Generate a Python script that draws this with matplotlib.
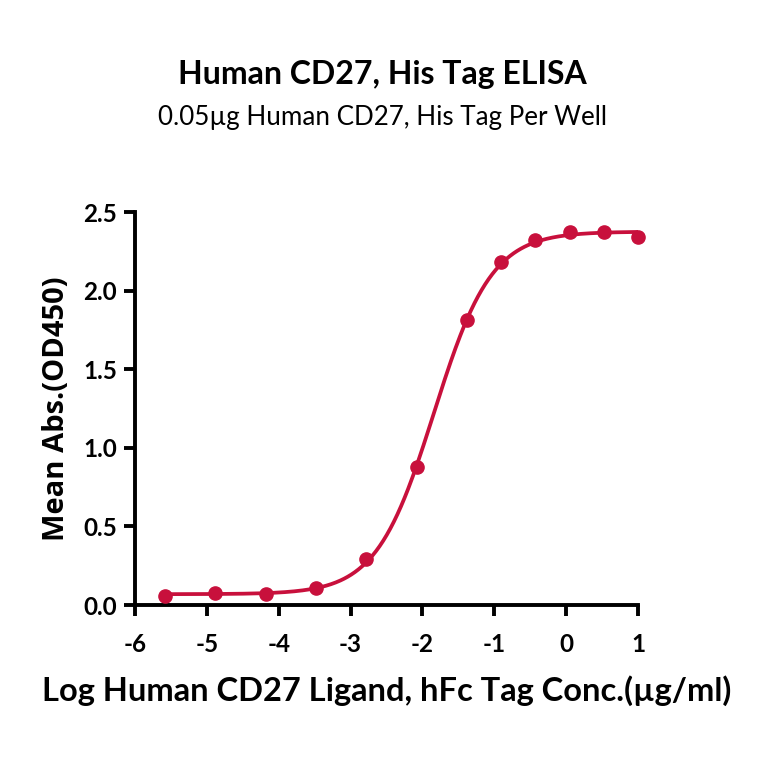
import numpy as np
import matplotlib
matplotlib.use("Agg")
import matplotlib.pyplot as plt

# log concentration (ug/ml) and mean OD450
log_conc = [-5.58, -4.88, -4.18, -3.48, -2.78, -2.08, -1.38, -0.91, -0.43, 0.05, 0.52, 1.0]
mean_abs = [0.057, 0.076, 0.070, 0.108, 0.29, 0.88, 1.81, 2.18, 2.32, 2.37, 2.37, 2.34]

x_ticks = [-6, -5, -4, -3, -2, -1, 0, 1]
y_ticks = [0.0, 0.5, 1.0, 1.5, 2.0, 2.5]

title = "Human CD27, His Tag ELISA"
subtitle = "0.05\u00b5g Human CD27, His Tag Per Well"
x_label = "Log Human CD27 Ligand, hFc Tag Conc.(\u00b5g/ml)"
y_label = "Mean Abs.(OD450)"

color = "#c8103c"


def four_pl_fit(x, y):
    # grid search on logEC50 / hill, bottom & top by linear least squares
    x = np.asarray(x)
    y = np.asarray(y)
    best = None
    for ec in np.linspace(-3, -1, 201):
        for h in np.linspace(0.5, 3, 126):
            s = 1.0 / (1.0 + 10 ** ((ec - x) * h))
            A = np.column_stack([1 - s, s])
            coef, *_ = np.linalg.lstsq(A, y, rcond=None)
            err = np.sum((A @ coef - y) ** 2)
            if best is None or err < best[0]:
                best = (err, coef[0], coef[1], ec, h)
    return best[1:]


bottom, top, ec50, hill = four_pl_fit(log_conc, mean_abs)
xs = np.linspace(min(log_conc), max(log_conc), 400)
ys = bottom + (top - bottom) / (1 + 10 ** ((ec50 - xs) * hill))

fig = plt.figure(figsize=(7.64, 7.64), dpi=100)
ax = fig.add_axes([0.1767, 0.2081, 0.6584, 0.5144])

ax.plot(xs, ys, color=color, lw=2.7, zorder=2)
ax.plot(log_conc, mean_abs, "o", color=color, ms=9.5, zorder=3, clip_on=False)

ax.set_xlim(-6, 1)
ax.set_ylim(0, 2.5)
ax.set_xticks(x_ticks)
ax.set_yticks(y_ticks)
ax.set_xticklabels([str(t) for t in x_ticks])
ax.set_yticklabels([f"{t:.1f}" for t in y_ticks])

for side in ["top", "right"]:
    ax.spines[side].set_visible(False)
for side in ["left", "bottom"]:
    ax.spines[side].set_linewidth(2.8)
ax.tick_params(width=2.8, length=8, direction="out", pad=5, labelsize=17.5)
for lab in ax.get_xticklabels() + ax.get_yticklabels():
    lab.set_fontweight("bold")
    lab.set_family("Lato")
ax.tick_params(axis="x", pad=12)

ax.set_xlabel(x_label, fontsize=23.5, fontweight="bold", family="Lato", labelpad=14)
ax.set_ylabel(y_label, fontsize=21, fontweight="bold", family="Open Sans", labelpad=9)

fig.text(0.5, 0.902, title, ha="center", va="center", fontsize=23, fontweight="bold", family="Lato")
fig.text(0.5, 0.846, subtitle, ha="center", va="center", fontsize=18.7, family="Lato")

fig.savefig("out.png", dpi=100)
